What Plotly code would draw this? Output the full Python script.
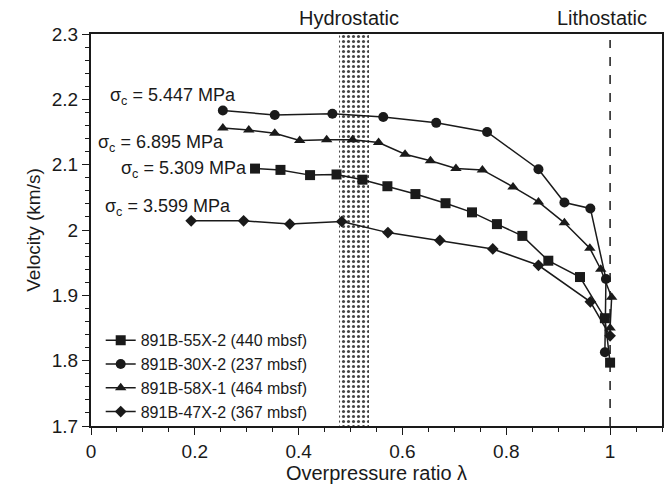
import plotly.graph_objects as go

# ---- data ----
names = ["891B-55X-2 (440 mbsf)", "891B-30X-2 (237 mbsf)",
         "891B-58X-1 (464 mbsf)", "891B-47X-2 (367 mbsf)"]
symbols = ["square", "circle", "triangle-up", "diamond"]
sizes = [10, 10, 10, 9]

x_55x = [0.316, 0.365, 0.422, 0.473, 0.523, 0.571, 0.625, 0.683, 0.734, 0.782, 0.831, 0.881, 0.942, 0.990, 1.000]
y_55x = [2.094, 2.092, 2.084, 2.085, 2.077, 2.067, 2.055, 2.041, 2.027, 2.009, 1.991, 1.953, 1.928, 1.865, 1.797]

x_30x = [0.254, 0.354, 0.465, 0.563, 0.665, 0.763, 0.862, 0.912, 0.962, 0.992, 0.990]
y_30x = [2.183, 2.176, 2.178, 2.173, 2.164, 2.150, 2.093, 2.042, 2.033, 1.925, 1.813]

x_58x = [0.254, 0.304, 0.354, 0.402, 0.454, 0.504, 0.554, 0.605, 0.654, 0.703, 0.754, 0.813, 0.862, 0.912, 0.961, 0.982, 1.003, 1.000]
y_58x = [2.156, 2.153, 2.148, 2.137, 2.138, 2.138, 2.134, 2.116, 2.106, 2.094, 2.092, 2.066, 2.043, 2.011, 1.972, 1.940, 1.897, 1.850]

x_47x = [0.193, 0.294, 0.383, 0.483, 0.572, 0.672, 0.774, 0.862, 0.962, 1.000]
y_47x = [2.014, 2.014, 2.009, 2.013, 1.996, 1.984, 1.971, 1.946, 1.890, 1.838]

series_x = [x_55x, x_30x, x_58x, x_47x]
series_y = [y_55x, y_30x, y_58x, y_47x]

sigma_labels = ["σ<sub>c</sub> = 5.447 MPa", "σ<sub>c</sub> = 6.895 MPa",
                "σ<sub>c</sub> = 5.309 MPa", "σ<sub>c</sub> = 3.599 MPa"]
sigma_x = [0.033, 0.010, 0.053, 0.024]
sigma_y = [2.204, 2.133, 2.092, 2.034]

hydro_band = [0.478, 0.535]
litho_x = 1.0
x_range = [0, 1.1]
y_range = [1.7, 2.3]
x_ticks = [0, 0.2, 0.4, 0.6, 0.8, 1]
x_ticktext = ["0", "0.2", "0.4", "0.6", "0.8", "1"]
y_ticks = [1.7, 1.8, 1.9, 2.0, 2.1, 2.2, 2.3]
y_ticktext = ["1.7", "1.8", "1.9", "2", "2.1", "2.2", "2.3"]

FONT = "Liberation Sans, Arial, Helvetica, sans-serif"
INK = "#1a1a1a"

fig = go.Figure()

# hydrostatic stippled band
fig.add_trace(go.Bar(
    x=[(hydro_band[0] + hydro_band[1]) / 2],
    y=[y_range[1] - y_range[0]],
    base=[y_range[0]],
    width=[hydro_band[1] - hydro_band[0]],
    marker=dict(color="white", line=dict(width=0),
                pattern=dict(shape=".", fgcolor="#444444", bgcolor="white",
                             size=5, solidity=0.3, fillmode="replace")),
    showlegend=False, hoverinfo="skip",
))

for nm, sx, sy, sym, sz in zip(names, series_x, series_y, symbols, sizes):
    fig.add_trace(go.Scatter(
        x=sx, y=sy, name=nm, mode="lines+markers",
        line=dict(color=INK, width=1.5),
        marker=dict(symbol=sym, size=sz, color=INK, line=dict(width=0)),
    ))

# lithostatic dashed line
fig.add_shape(type="line", x0=litho_x, x1=litho_x, xref="x", yref="paper",
              y0=0, y1=0.985, line=dict(color=INK, width=1.5, dash="dash"))

for txt, ax, ay in zip(sigma_labels, sigma_x, sigma_y):
    fig.add_annotation(x=ax, y=ay, xref="x", yref="y", text=txt, showarrow=False,
                       xanchor="left", yanchor="middle",
                       font=dict(family=FONT, size=18, color=INK))

fig.add_annotation(x=(hydro_band[0] + hydro_band[1]) / 2 - 0.01, y=1.0, xref="x", yref="paper",
                   yshift=3, text="Hydrostatic", showarrow=False, yanchor="bottom",
                   font=dict(family=FONT, size=20, color=INK))
fig.add_annotation(x=0.985, y=1.0, xref="x", yref="paper", yshift=3,
                   text="Lithostatic", showarrow=False, yanchor="bottom",
                   font=dict(family=FONT, size=20, color=INK))

fig.update_layout(
    width=669, height=498,
    margin=dict(l=91, r=5, t=34, b=72),
    paper_bgcolor="white", plot_bgcolor="white",
    font=dict(family=FONT, color=INK),
    bargap=0,
    legend=dict(x=0.017, y=0.262, xanchor="left", yanchor="top",
                bgcolor="rgba(0,0,0,0)", font=dict(family=FONT, size=16, color=INK),
                tracegroupgap=0, itemwidth=30),
    xaxis=dict(range=x_range, tickvals=x_ticks, ticktext=x_ticktext,
               showgrid=False, zeroline=False, showline=True, mirror=True,
               linecolor=INK, linewidth=2, ticks="outside", ticklen=7,
               tickwidth=1.2, tickcolor=INK,
               minor=dict(dtick=0.05, ticks="outside", ticklen=4, tickcolor=INK, showgrid=False),
               tickfont=dict(family=FONT, size=19, color=INK),
               title=dict(text="Overpressure ratio λ", font=dict(family=FONT, size=20, color=INK),
                          standoff=4)),
    yaxis=dict(range=y_range, tickvals=y_ticks, ticktext=y_ticktext,
               showgrid=False, zeroline=False, showline=True, mirror=True,
               linecolor=INK, linewidth=2, ticks="outside", ticklen=7,
               tickwidth=1.2, tickcolor=INK,
               minor=dict(dtick=0.02, ticks="outside", ticklen=4, tickcolor=INK, showgrid=False),
               tickfont=dict(family=FONT, size=19, color=INK),
               title=dict(text="Velocity (km/s)", font=dict(family=FONT, size=19, color=INK),
                          standoff=6)),
)

fig.write_html("out.html")
